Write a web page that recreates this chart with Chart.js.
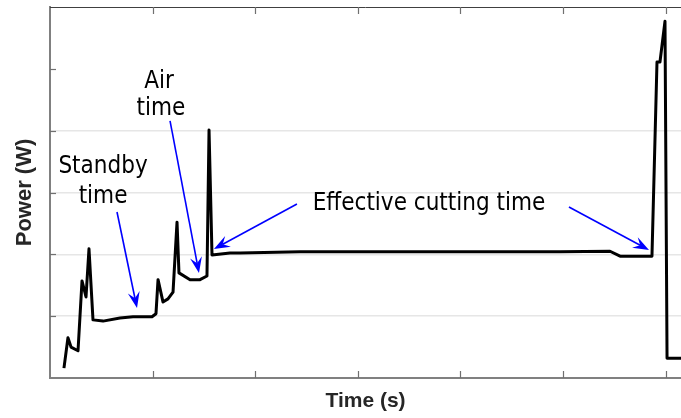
<!DOCTYPE html>
<html>
<head>
<meta charset="utf-8">
<title>Power profile</title>
<script src="https://cdn.jsdelivr.net/npm/chart.js@4.4.1/dist/chart.umd.min.js"></script>
<style>
  html, body { margin: 0; padding: 0; background: #fff; }
  #wrap { width: 681px; height: 418px; }
</style>
</head>
<body>
<div id="wrap"><canvas id="powerChart"></canvas></div>
<script>
// time and power are both in "tick units" (the source has no tick labels)
const timeValues = [0.136, 0.175, 0.205, 0.273, 0.312, 0.351, 0.380, 0.419, 0.517, 0.682,
                    0.809, 0.994, 1.033, 1.053, 1.101, 1.150, 1.199, 1.238, 1.257, 1.365,
                    1.462, 1.530, 1.550, 1.579, 1.754, 1.852, 2.437, 3.411, 4.386, 4.971,
                    5.458, 5.556, 5.867, 5.916, 5.945, 5.994, 6.014, 6.150];
const powerValues = [0.16, 0.65, 0.50, 0.44, 1.57, 1.31, 2.09, 0.94, 0.92, 0.97,
                     0.99, 0.99, 1.04, 1.59, 1.23, 1.28, 1.39, 2.52, 1.70, 1.59,
                     1.59, 1.65, 4.01, 1.99, 2.02, 2.02, 2.04, 2.04, 2.04, 2.04,
                     2.05, 1.97, 1.97, 5.11, 5.11, 5.77, 0.32, 0.32];

const xTicks = [1, 2, 3, 4, 5, 6];
const yTicks = [1, 2, 3, 4, 5];
const yGridValues = [1, 2, 3, 4];

// annotation texts (centre x, baseline y in data units)
const noteTexts = ['Standby', 'time', 'Air', 'time', 'Effective cutting time'];
const noteX = [0.517, 0.517, 1.062, 1.082, 3.694];
const noteY = [3.316, 2.830, 4.690, 4.254, 2.717];

// arrows: from (start) -> to (tip)
const arrowFromX = [0.653, 1.170, 2.407, 5.058];
const arrowFromY = [2.685, 4.157, 2.814, 2.766];
const arrowToX = [0.848, 1.452, 1.598, 5.838];
const arrowToY = [1.132, 1.698, 2.086, 2.070];

function drawArrow(ctx, x1, y1, x2, y2) {
    var ang = Math.atan2(y2 - y1, x2 - x1);
    var len = 16, half = 6, notch = 10;
    ctx.strokeStyle = '#0000ff';
    ctx.fillStyle = '#0000ff';
    ctx.lineWidth = 1.6;
    ctx.beginPath();
    ctx.moveTo(x1, y1);
    ctx.lineTo(x2 - notch * Math.cos(ang), y2 - notch * Math.sin(ang));
    ctx.stroke();
    ctx.save();
    ctx.translate(x2, y2);
    ctx.rotate(ang);
    ctx.beginPath();
    ctx.moveTo(0, 0);
    ctx.lineTo(-len, -half);
    ctx.lineTo(-notch, 0);
    ctx.lineTo(-len, half);
    ctx.closePath();
    ctx.fill();
    ctx.restore();
}

// frame, inward ticks and the text / arrow annotations
const decorPlugin = {
    id: 'decor',
    afterDraw(chart) {
        var ctx = chart.ctx;
        var xs = chart.scales.x, ys = chart.scales.y;
        var area = chart.chartArea;
        ctx.save();

        // top frame line
        ctx.strokeStyle = '#404040';
        ctx.lineWidth = 1;
        ctx.beginPath();
        ctx.moveTo(area.left, area.top + 0.5);
        ctx.lineTo(area.right, area.top + 0.5);
        ctx.stroke();

        // inward ticks
        ctx.strokeStyle = '#707070';
        ctx.lineWidth = 1.2;
        xTicks.forEach(function (v) {
            var px = Math.round(xs.getPixelForValue(v)) + 0.5;
            ctx.beginPath();
            ctx.moveTo(px, area.bottom);
            ctx.lineTo(px, area.bottom - 7);
            ctx.moveTo(px, area.top);
            ctx.lineTo(px, area.top + 7);
            ctx.stroke();
        });
        yTicks.forEach(function (v) {
            var py = Math.round(ys.getPixelForValue(v)) + 0.5;
            ctx.beginPath();
            ctx.moveTo(area.left, py);
            ctx.lineTo(area.left + 6, py);
            ctx.stroke();
        });

        // arrows
        for (var i = 0; i < arrowFromX.length; i++) {
            drawArrow(ctx,
                xs.getPixelForValue(arrowFromX[i]), ys.getPixelForValue(arrowFromY[i]),
                xs.getPixelForValue(arrowToX[i]), ys.getPixelForValue(arrowToY[i]));
        }

        // labels
        ctx.fillStyle = '#000';
        ctx.font = '24px "DejaVu Sans Condensed", "DejaVu Sans", sans-serif';
        ctx.textAlign = 'center';
        ctx.textBaseline = 'alphabetic';
        for (var j = 0; j < noteTexts.length; j++) {
            ctx.fillText(noteTexts[j], xs.getPixelForValue(noteX[j]), ys.getPixelForValue(noteY[j]));
        }
        ctx.restore();
    }
};

var chartData = {
    datasets: [{
        label: 'Power',
        data: timeValues.map(function (t, i) { return { x: t, y: powerValues[i] }; }),
        borderColor: '#000',
        borderWidth: 3,
        borderJoinStyle: 'round',
        pointRadius: 0,
        tension: 0,
        fill: false
    }]
};

var chartOptions = {
    responsive: true,
    maintainAspectRatio: false,
    animation: false,
    layout: { padding: { top: 7, right: 0, left: 0, bottom: 0 } },
    plugins: {
        legend: { display: false },
        tooltip: { enabled: false }
    },
    scales: {
        x: {
            type: 'linear',
            min: 0,
            max: 6.15,
            afterFit: function (s) { s.height = 40; },
            ticks: { display: false, stepSize: 1 },
            grid: { color: 'rgba(0,0,0,0)', drawTicks: false },
            border: { display: true, color: '#808080', width: 2 },
            title: {
                display: true,
                text: 'Time (s)',
                color: '#262626',
                font: { family: '"Liberation Sans", Arial, sans-serif', size: 21, weight: 'bold' },
                padding: { top: 0, bottom: 4 }
            }
        },
        y: {
            min: 0,
            max: 6,
            afterFit: function (s) { s.width = 50; },
            ticks: { display: false, stepSize: 1 },
            grid: {
                drawTicks: false,
                lineWidth: 1.5,
                color: function (c) {
                    return c.tick && yGridValues.indexOf(c.tick.value) >= 0 ? '#e6e6e6' : 'rgba(0,0,0,0)';
                }
            },
            border: { display: true, color: '#808080', width: 2 },
            title: {
                display: true,
                text: 'Power (W)',
                color: '#262626',
                font: { family: '"Liberation Sans", Arial, sans-serif', size: 22, weight: 'bold' },
                padding: { top: 12, bottom: 0 }
            }
        }
    }
};

var ctx = document.getElementById('powerChart');
var powerChart = new Chart(ctx, {
    type: 'line',
    data: chartData,
    options: chartOptions,
    plugins: [decorPlugin]
});
</script>
</body>
</html>
